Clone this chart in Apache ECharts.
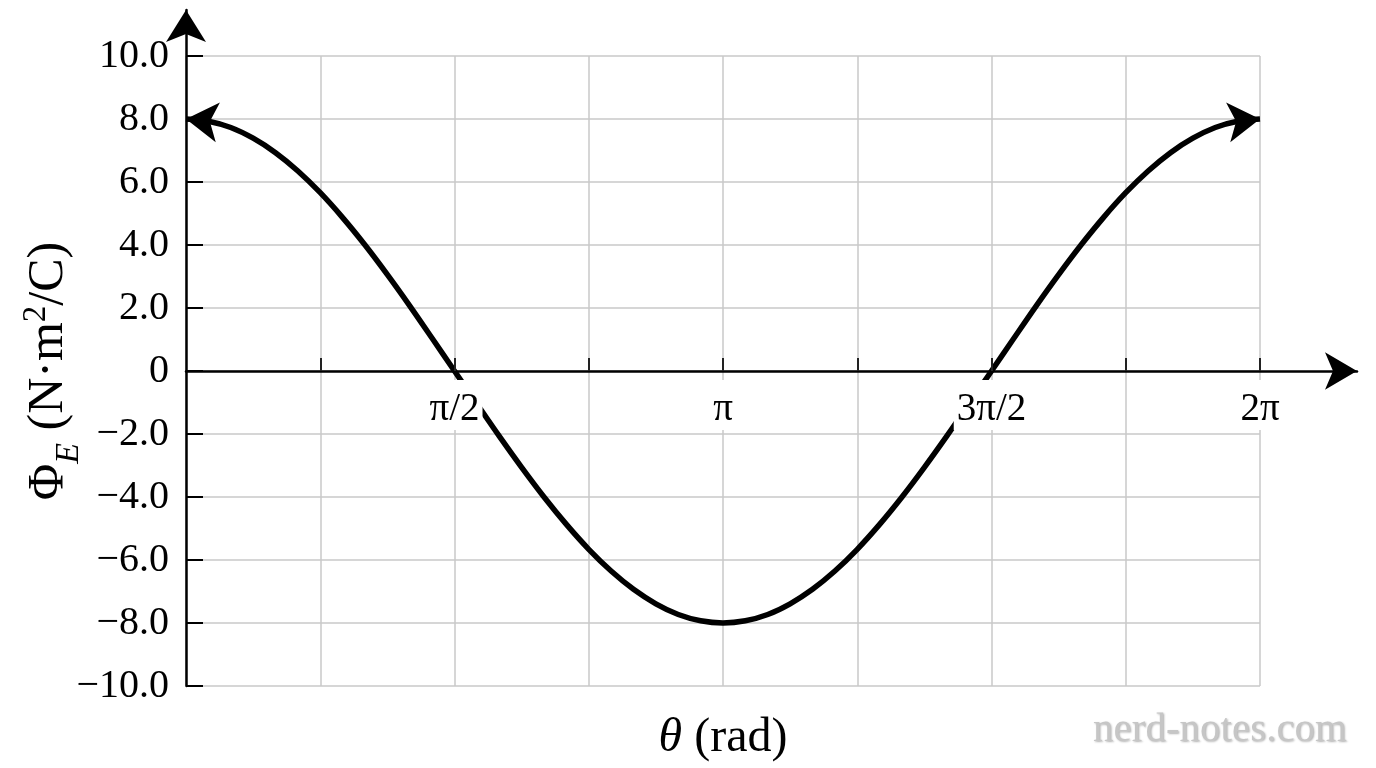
<!DOCTYPE html>
<html>
<head>
<meta charset="utf-8">
<script src="https://cdn.jsdelivr.net/npm/echarts@6/dist/echarts.min.js"></script>
<style>
html,body{margin:0;padding:0;background:#fff;}
#c{width:1376px;height:768px;}
</style>
</head>
<body>
<div id="c"></div>
<script>
// ---- data ----
const thetaValues = [0, 0.1309, 0.2618, 0.3927, 0.5236, 0.6545, 0.7854, 0.9163, 1.0472, 1.1781, 1.309, 1.4399,
  1.5708, 1.7017, 1.8326, 1.9635, 2.0944, 2.2253, 2.3562, 2.4871, 2.618, 2.7489, 2.8798, 3.0107,
  3.1416, 3.2725, 3.4034, 3.5343, 3.6652, 3.7961, 3.927, 4.0579, 4.1888, 4.3197, 4.4506, 4.5815,
  4.7124, 4.8433, 4.9742, 5.1051, 5.236, 5.3669, 5.4978, 5.6287, 5.7596, 5.8905, 6.0214, 6.1523, 6.2832];
const fluxValues = [8, 7.93, 7.73, 7.39, 6.93, 6.35, 5.66, 4.87, 4.0, 3.06, 2.07, 1.04,
  0, -1.04, -2.07, -3.06, -4.0, -4.87, -5.66, -6.35, -6.93, -7.39, -7.73, -7.93,
  -8, -7.93, -7.73, -7.39, -6.93, -6.35, -5.66, -4.87, -4.0, -3.06, -2.07, -1.04,
  0, 1.04, 2.07, 3.06, 4.0, 4.87, 5.66, 6.35, 6.93, 7.39, 7.73, 7.93, 8];
const xTickValues = [0.7854, 1.5708, 2.3562, 3.1416, 3.927, 4.7124, 5.4978, 6.2832];
const xLabelValues = [1.5708, 3.1416, 4.7124, 6.2832];
const xLabelTexts = ['π/2', 'π', '3π/2', '2π'];
const yMin = -10, yMax = 10, yStep = 2;
const xMin = 0, xMax = 2 * Math.PI, xStep = Math.PI / 4;

// ---- layout ----
const W = 1376, H = 768;
const plotL = 186, plotR = 1260, plotT = 56, plotB = 686;
const axisTopEnd = 10, axisRightEnd = 1357;
const pxPerY = (plotB - plotT) / (yMax - yMin);
const pxPerX = (plotR - plotL) / (xMax - xMin);
const zeroY = plotT + (yMax - 0) * pxPerY;
const y1Max = yMin + (plotB - axisTopEnd) / pxPerY;
const x2Max = xMin + (axisRightEnd - plotL) / pxPerX;

const FONT = 'Liberation Serif';
const gridColor = '#c8c8c8';

const seriesData = thetaValues.map((t, i) => {
  const item = { value: [t, fluxValues[i]] };
  if (i === 0) {
    item.symbol = 'arrow'; item.symbolSize = [30, 32]; item.symbolRotate = 84;
  } else if (i === thetaValues.length - 1) {
    item.symbol = 'arrow'; item.symbolSize = [30, 32]; item.symbolRotate = -84;
  }
  return item;
});

function yFmt(v) {
  if (Math.abs(v) < 1e-9) return '0';
  return v.toFixed(1).replace('-', '−');
}

const gridBase = { containLabel: false, outerBoundsMode: 'none' };

const chart = echarts.init(document.getElementById('c'), null, { renderer: 'canvas' });
chart.setOption({
  backgroundColor: '#fff',
  animation: false,
  title: {
    text: 'nerd-notes.com', right: 24, bottom: 12,
    textStyle: { fontFamily: FONT, fontSize: 41, fontWeight: 'normal', color: '#c6c6c6',
      textShadowColor: 'rgba(0,0,0,0.3)', textShadowBlur: 2, textShadowOffsetX: 1, textShadowOffsetY: 1 }
  },
  grid: [
    Object.assign({ left: plotL, right: W - plotR, top: plotT, bottom: H - plotB }, gridBase),
    Object.assign({ left: plotL, right: W - plotR, top: axisTopEnd, bottom: H - plotB }, gridBase),
    Object.assign({ left: plotL, right: W - axisRightEnd, top: plotT, bottom: H - zeroY }, gridBase)
  ],
  xAxis: [
    {
      gridIndex: 0, type: 'value', min: xMin, max: xMax, interval: xStep, position: 'bottom',
      axisLine: { show: false, onZero: false }, axisTick: { show: false }, axisLabel: { show: false },
      splitLine: { show: true, lineStyle: { color: gridColor, width: 1.5 } },
      name: '{i|θ}{a| (rad)}', nameLocation: 'middle', nameGap: 28, nameMoveOverlap: false,
      nameTextStyle: { rich: {
        i: { fontFamily: FONT, fontStyle: 'italic', fontSize: 48, color: '#000' },
        a: { fontFamily: FONT, fontSize: 48, color: '#000' } } }
    },
    {
      gridIndex: 1, type: 'value', min: xMin, max: xMax, show: false
    },
    {
      gridIndex: 2, type: 'value', min: xMin, max: x2Max, z: 10, position: 'bottom',
      axisLine: { show: true, onZero: false, symbol: ['none', 'arrow'], symbolSize: [28, 32],
        lineStyle: { color: '#000', width: 2.5 } },
      axisTick: { show: true, inside: true, length: 13, customValues: xTickValues,
        lineStyle: { color: '#222', width: 2 } },
      axisLabel: { show: true, customValues: xLabelValues, margin: 9,
        fontFamily: FONT, fontSize: 39, lineHeight: 40, color: '#000', backgroundColor: '#fff', padding: [10, 3, 0, 3],
        formatter: function (v) {
          let best = 0;
          for (let i = 1; i < xLabelValues.length; i++) {
            if (Math.abs(xLabelValues[i] - v) < Math.abs(xLabelValues[best] - v)) best = i;
          }
          return xLabelTexts[best];
        } },
      splitLine: { show: false }
    }
  ],
  yAxis: [
    {
      gridIndex: 0, type: 'value', min: yMin, max: yMax, interval: yStep,
      axisLine: { show: false },
      axisTick: { show: true, inside: true, length: 17, lineStyle: { color: '#000', width: 2 } },
      axisLabel: { show: true, margin: 17, fontFamily: FONT, fontSize: 40, color: '#000', formatter: yFmt },
      splitLine: { show: true, lineStyle: { color: gridColor, width: 1.5 } },
      name: '{a|Φ}{sub|E}{a| (N·m}{sup|2}{a|/C)}',
      nameLocation: 'middle', nameRotate: 90, nameGap: 112, nameMoveOverlap: false,
      nameTextStyle: { rich: {
        a: { fontFamily: FONT, fontSize: 50, color: '#000', lineHeight: 50 },
        sub: { fontFamily: FONT, fontSize: 34, fontStyle: 'italic', color: '#000', verticalAlign: 'bottom', lineHeight: 50, padding: [0, 0, -12, 0] },
        sup: { fontFamily: FONT, fontSize: 33, color: '#000', verticalAlign: 'top', lineHeight: 50, padding: [-4, 0, 0, 0] } } }
    },
    {
      gridIndex: 1, type: 'value', min: yMin, max: y1Max,
      axisLine: { show: true, onZero: false, symbol: ['none', 'arrow'], symbolSize: [30, 32],
        lineStyle: { color: '#000', width: 2.5 } },
      axisTick: { show: false }, axisLabel: { show: false }, splitLine: { show: false }
    },
    {
      gridIndex: 2, type: 'value', min: 0, max: yMax, show: false
    }
  ],
  series: [{
    type: 'line', xAxisIndex: 0, yAxisIndex: 0, z: 3, clip: false,
    data: seriesData, symbol: 'none', showSymbol: true, showAllSymbol: true,
    smooth: 0.3,
    lineStyle: { color: '#000', width: 5.5 },
    itemStyle: { color: '#000' }
  }]
});
</script>
</body>
</html>
